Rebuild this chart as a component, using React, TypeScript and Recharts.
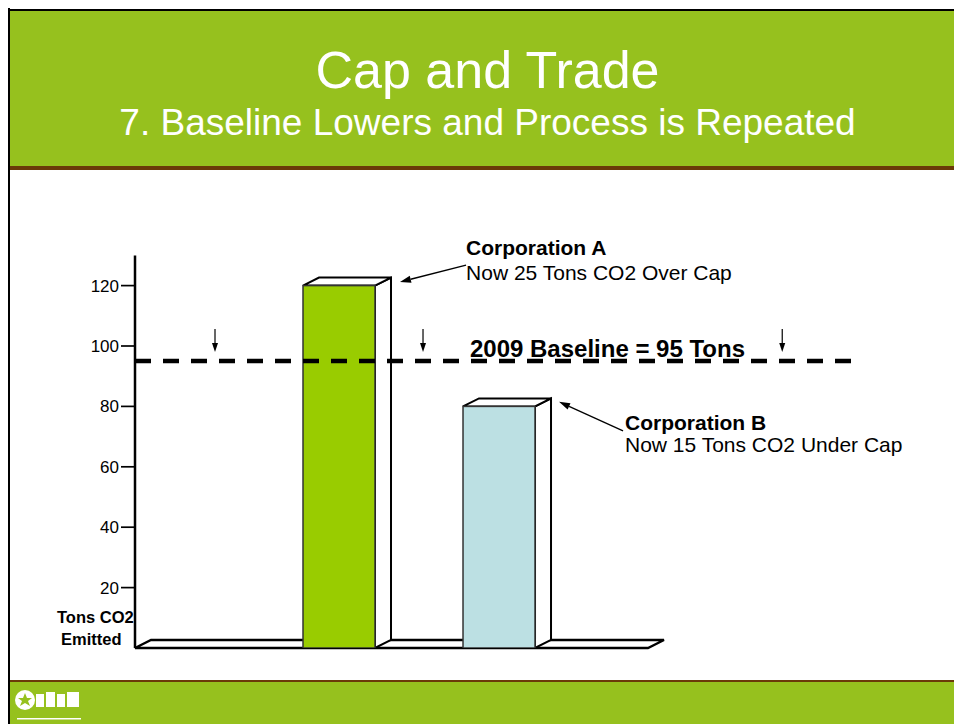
import React from "react";
import {
  ComposedChart,
  Bar,
  XAxis,
  YAxis,
  ReferenceLine,
  ReferenceDot,
} from "recharts";

// ---------- data ----------
const corporations = ["Corporation A", "Corporation B"];
const corpPositions = [1, 2];
const emissions = [120, 80];
const barColors = ["#99CC00", "#BCE0E3"];

const baselineValue = 95;
const baselineLabel = "2009 Baseline = 95 Tons";
const baselineLabelX = 2.678;

const yTicks = [20, 40, 60, 80, 100, 120];
const yDomain: [number, number] = [0, 130];
const xDomain: [number, number] = [-0.275, 4.206];
const floorEnd = 2.931;

const capArrowXs = [0.225, 1.525, 3.77];
const capArrowTop = 105.6;
const capArrowTip = 98;

const annotationTitles = ["Corporation A", "Corporation B"];
const annotationTexts = ["Now 25 Tons CO2 Over Cap", "Now 15 Tons CO2 Under Cap"];
const annotationStarts = [
  { x: 1.794, y: 126.8 },
  { x: 2.775, y: 71.9 },
];
const annotationEnds = [
  { x: 1.381, y: 121.2 },
  { x: 2.375, y: 81.5 },
];

const titleText = "Cap and Trade";
const subtitleText = "7. Baseline Lowers and Process is Repeated";
const axisLabelLines = ["Tons CO2", "Emitted"];

// ---------- styles / layout ----------
const FONT = "'Liberation Sans', Arial, Helvetica, sans-serif";
const HEADER_GREEN = "#96C11E";
const BROWN = "#6A3A08";
const DEPTH_X = 16;
const DEPTH_Y = -8;
const annotationTextLayout = [
  { dx: 0, titleDy: -10.5, bodyDy: 14.5 },
  { dx: 2, titleDy: -1, bodyDy: 21 },
];

const data = corporations.map((name, i) => ({
  name,
  pos: corpPositions[i],
  value: emissions[i],
  color: barColors[i],
}));

const Bar3D = (props: any) => {
  const { x, y, width, height, payload } = props;
  if (x == null || y == null) return null;
  const r = x + width;
  const b = y + height;
  return (
    <g>
      <polygon
        points={`${r},${y} ${r + DEPTH_X},${y + DEPTH_Y} ${r + DEPTH_X},${b + DEPTH_Y} ${r},${b}`}
        fill="#fff"
        stroke="#000"
        strokeWidth={2}
      />
      <polygon
        points={`${x},${y} ${x + DEPTH_X},${y + DEPTH_Y} ${r + DEPTH_X},${y + DEPTH_Y} ${r},${y}`}
        fill="#fff"
        stroke="#000"
        strokeWidth={2}
      />
      <rect x={x} y={y} width={width} height={height} fill={payload.color} stroke="#333" strokeWidth={1.5} />
    </g>
  );
};

const Floor = (p: any) => {
  const { x1, y1, x2, y2 } = p;
  return (
    <path
      d={`M${x1},${y1} L${x1 + DEPTH_X},${y1 + DEPTH_Y} L${x2 + DEPTH_X},${y2 + DEPTH_Y} L${x2},${y2} Z`}
      fill="none"
      stroke="#000"
      strokeWidth={2.3}
    />
  );
};

const arrowParts = (x1: number, y1: number, x2: number, y2: number, head: number, headW: number, sw: number) => {
  const ang = Math.atan2(y2 - y1, x2 - x1);
  const bx = x2 - head * Math.cos(ang);
  const by = y2 - head * Math.sin(ang);
  const nx = (-Math.sin(ang) * headW) / 2;
  const ny = (Math.cos(ang) * headW) / 2;
  return (
    <g>
      <line x1={x1} y1={y1} x2={bx} y2={by} stroke="#000" strokeWidth={sw} />
      <polygon points={`${x2},${y2} ${bx + nx},${by + ny} ${bx - nx},${by - ny}`} fill="#000" />
    </g>
  );
};

const CapArrow = (p: any) => arrowParts(p.x1, p.y1, p.x2, p.y2, 9, 6, 1.2);

const makeAnnotation = (i: number) => (p: any) => {
  const { x1, y1, x2, y2 } = p;
  const lay = annotationTextLayout[i];
  return (
    <g>
      {arrowParts(x1, y1, x2, y2, 11, 7, 1.3)}
      <text x={x1 + lay.dx} y={y1 + lay.titleDy} fontSize={21} fontWeight="bold" fill="#000" fontFamily={FONT}>
        {annotationTitles[i]}
      </text>
      <text x={x1 + lay.dx} y={y1 + lay.bodyDy} fontSize={21} fill="#000" fontFamily={FONT}>
        {annotationTexts[i]}
      </text>
    </g>
  );
};

const BaselineText = (p: any) => (
  <text x={p.cx} y={p.cy - 4.5} textAnchor="middle" fontSize={24} fontWeight="bold" fill="#000" fontFamily={FONT}>
    {baselineLabel}
  </text>
);

export default function App() {
  return (
    <div
      style={{
        position: "fixed",
        left: 8,
        top: 8,
        width: 946,
        height: 716,
        overflow: "hidden",
        fontFamily: FONT,
        background: "#fff",
      }}
    >
      <svg width={946} height={716} style={{ position: "absolute", left: 0, top: 0 }}>
        <rect x={0} y={1} width={946} height={2} fill="#000" />
        <rect x={0} y={0} width={2} height={716} fill="#000" />
        <rect x={2} y={3} width={944} height={155} fill={HEADER_GREEN} />
        <rect x={2} y={158} width={944} height={4} fill={BROWN} />
        <rect x={2} y={672} width={944} height={2} fill={BROWN} />
        <rect x={2} y={674} width={944} height={42} fill={HEADER_GREEN} />
        <text x={479.5} y={80} textAnchor="middle" fill="#fff" fontSize={52} fontFamily={FONT}>
          {titleText}
        </text>
        <text x={479.5} y={127} textAnchor="middle" fill="#fff" fontSize={37} fontFamily={FONT}>
          {subtitleText}
        </text>
        {/* logo */}
        <circle cx={17} cy={692} r={10} fill="#fff" />
        <polygon
          points="17,685 19,690 24,690 20,693 22,698 17,695 12,698 14,693 10,690 15,690"
          fill={HEADER_GREEN}
        />
        <rect x={28} y={686} width={8} height={13} fill="#fff" />
        <rect x={38} y={684} width={9} height={15} fill="#fff" />
        <rect x={49} y={686} width={8} height={13} fill="#fff" />
        <rect x={59} y={684} width={12} height={15} fill="#fff" />
        <rect x={9} y={710} width={64} height={1.5} fill="#fff" />
        {/* axis title */}
        <text x={49} y={615} fontSize={16.5} fontWeight="bold" fill="#000" fontFamily={FONT}>
          {axisLabelLines[0]}
        </text>
        <text x={53} y={637} fontSize={16.5} fontWeight="bold" fill="#000" fontFamily={FONT}>
          {axisLabelLines[1]}
        </text>
      </svg>
      <div style={{ position: "absolute", left: 0, top: 0 }}>
        <ComposedChart
          width={946}
          height={716}
          data={data}
          margin={{ top: 247.4, right: 102, bottom: 76, left: 67 }}
          style={{ fontFamily: FONT }}
        >
          <XAxis type="number" dataKey="pos" domain={xDomain} allowDataOverflow hide height={0} />
          <YAxis
            type="number"
            domain={yDomain}
            ticks={yTicks}
            allowDataOverflow
            width={60}
            interval={0}
            axisLine={{ stroke: "#000", strokeWidth: 2.5 }}
            tickLine={{ stroke: "#000", strokeWidth: 1.7 }}
            tickSize={14}
            tickMargin={2}
            tick={{ fontSize: 17, fill: "#000", fontFamily: FONT }}
          />
          <ReferenceLine
            segment={[
              { x: xDomain[0], y: 0 },
              { x: floorEnd, y: 0 },
            ]}
            shape={Floor}
            ifOverflow="visible"
            zIndex={-10}
          />
          <Bar dataKey="value" barSize={72} shape={Bar3D} isAnimationActive={false} />
          <ReferenceLine y={baselineValue} stroke="#000" strokeWidth={4.5} strokeDasharray="16 12" />
          {capArrowXs.map((ax, i) => (
            <ReferenceLine
              key={`cap-${i}`}
              segment={[
                { x: ax, y: capArrowTop },
                { x: ax, y: capArrowTip },
              ]}
              shape={CapArrow}
              ifOverflow="visible"
            />
          ))}
          {annotationStarts.map((s, i) => (
            <ReferenceLine
              key={`ann-${i}`}
              segment={[s, annotationEnds[i]]}
              shape={makeAnnotation(i)}
              ifOverflow="visible"
            />
          ))}
          <ReferenceDot x={baselineLabelX} y={baselineValue} r={0} shape={BaselineText} ifOverflow="visible" />
        </ComposedChart>
      </div>
    </div>
  );
}
